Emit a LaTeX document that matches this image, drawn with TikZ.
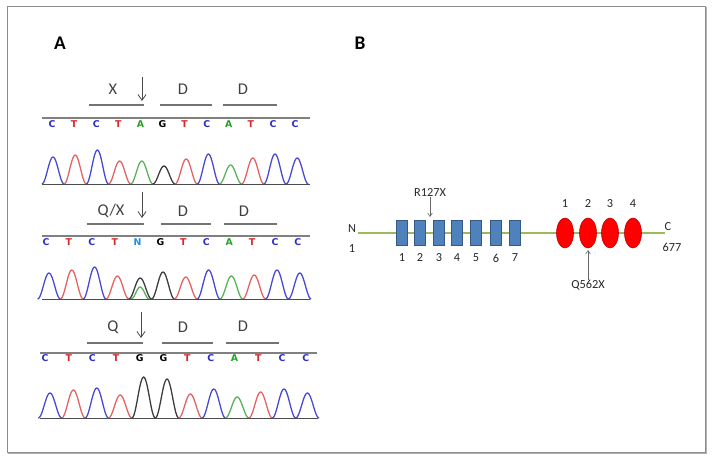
\documentclass[tikz,border=0pt]{standalone}
\usepackage{fontspec}
\setmainfont{Carlito}
\newfontfamily\basefont{DejaVu Sans}
\usetikzlibrary{positioning,arrows.meta,shapes.geometric}

\definecolor{tblue}{RGB}{72,72,215}
\definecolor{tred}{RGB}{228,98,98}
\definecolor{tgreen}{RGB}{88,178,88}
\definecolor{tblack}{RGB}{60,60,60}
\definecolor{lblue}{RGB}{45,45,200}
\definecolor{lred}{RGB}{215,40,40}
\definecolor{lgreen}{RGB}{40,160,40}
\definecolor{lcyan}{RGB}{30,140,230}
\definecolor{domblue}{RGB}{79,129,189}
\definecolor{domgreen}{RGB}{155,187,89}

\tikzset{
  panel/.style={font=\fontsize{16.5}{18}\selectfont\bfseries, inner sep=0pt},
  codon/.style={font=\fontsize{14}{16}\selectfont, text=black!75, inner sep=0pt},
  codonbar/.style={draw=black!55, line width=1.1pt},
  seqbar/.style={draw=black!50, line width=1.3pt},
  tracebar/.style={draw=black!70, line width=0.8pt},
  base/.style={font=\basefont\bfseries\fontsize{8}{8}\selectfont, inner sep=0pt},
  peak/.style={line width=1.1pt, line join=round},
  mutarrow/.style={-{Straight Barb[length=5pt,width=7pt]}, draw=black!70, line width=0.7pt},
  ptarrow/.style={-{Straight Barb[length=3pt,width=4pt]}, draw=black!60, line width=0.5pt},
  domlabel/.style={font=\fontsize{10.5}{12}\selectfont, text=black!85, inner sep=0pt},
  igbox/.style={rectangle, draw=domblue!70!black, fill=domblue, line width=0.5pt,
    minimum width=0.33cm, minimum height=0.75cm, inner sep=0pt},
  lrr/.style={ellipse, draw=red!75!black, fill=red, line width=0.5pt,
    minimum width=0.51cm, minimum height=0.9cm, inner sep=0pt},
}

\begin{document}
\begin{tikzpicture}[x=0.03cm, y=-0.03cm]
\useasboundingbox (0,0) rectangle (712,459);
\draw[black!30, line width=1pt] (8,453.5) -- (706.5,453.5) -- (706.5,7);
\draw[black!45, line width=0.8pt] (7,6) rectangle (705,452);

\node[panel] (pa) at (60,43) {A};
\node[panel] (pb) at (360,43) {B};

%%%%%%%%%%%%%% trace 1
\node[codon] (x1) at (113,89) {X};
\node[codon] (d11) at (183,89) {D};
\node[codon] (d12) at (243,89) {D};
\coordinate (arr1s) at (142,77);
\coordinate (arr1e) at (142,101);
\draw[mutarrow] (arr1s) -- (arr1e);
\draw[codonbar] (89,105) -- (144,105);
\draw[codonbar] (160,105) -- (212,105);
\draw[codonbar] (223,105) -- (277,105);
\draw[seqbar] (42,118) -- (310,118);
\foreach \b/\col [count=\i from 0] in {C/lblue,T/lred,C/lblue,T/lred,A/lgreen,G/black,T/lred,C/lblue,A/lgreen,T/lred,C/lblue,C/lblue}
  \node[base,text=\col] (s1b\i) at ({52+22.1*\i},124) {\b};
\foreach \col/\h [count=\i from 0] in {tblue/27,tred/29,tblue/34,tred/23,tgreen/23,tblack/18,tred/25,tblue/30,tgreen/19,tred/26,tblue/30,tblue/26}
  \draw[peak,\col] plot[domain=-11.1:11.1,samples=25,smooth] ({53+22.2*\i+\x},{184-\h*(0.5+0.5*cos(\x*180/11.1))});
\draw[tracebar] (42,184) -- (310,184);

%%%%%%%%%%%%%% trace 2
\node[codon] (qx2) at (111,211) {Q/X};
\node[codon] (d21) at (183,211) {D};
\node[codon] (d22) at (244,211) {D};
\coordinate (arr2s) at (142,192);
\coordinate (arr2e) at (142,218);
\draw[mutarrow] (arr2s) -- (arr2e);
\draw[codonbar] (87,224) -- (144,224);
\draw[codonbar] (161,224) -- (211,224);
\draw[codonbar] (224,224) -- (277,224);
\draw[seqbar] (42,236) -- (310,236);
\foreach \b/\col [count=\i from 0] in {C/lblue,T/lred,C/lblue,T/lred,N/lcyan,G/black,T/lred,C/lblue,A/lgreen,T/lred,C/lblue,C/lblue}
  \node[base,text=\col] (s2b\i) at ({46+22.9*\i},242) {\b};
\draw[peak,tgreen] plot[domain=-9:9,samples=25,smooth] ({49+22.8*4+\x},{299-12*(0.5+0.5*cos(\x*180/9))});
\foreach \col/\h [count=\i from 0] in {tblue/26,tred/29,tblue/32,tred/23,tblack/21,tblack/27,tred/22,tblue/29,tgreen/23,tred/24,tblue/29,tblue/26}
  \draw[peak,\col] plot[domain=-11.4:11.4,samples=25,smooth] ({49+22.8*\i+\x},{299-\h*(0.5+0.5*cos(\x*180/11.4))});
\draw[tracebar] (42,299) -- (310,299);

%%%%%%%%%%%%%% trace 3
\node[codon] (q3) at (113,327) {Q};
\node[codon] (d31) at (183,327) {D};
\node[codon] (d32) at (243,326) {D};
\coordinate (arr3s) at (141,312);
\coordinate (arr3e) at (141,338);
\draw[mutarrow] (arr3s) -- (arr3e);
\draw[codonbar] (87,343) -- (143,343);
\draw[codonbar] (162,343) -- (213,343);
\draw[codonbar] (226,343) -- (279,343);
\draw[seqbar] (40,353) -- (317,353);
\foreach \b/\col [count=\i from 0] in {C/lblue,T/lred,C/lblue,T/lred,G/black,G/black,T/lred,C/lblue,A/lgreen,T/lred,C/lblue,C/lblue}
  \node[base,text=\col] (s3b\i) at ({45+23.7*\i},358) {\b};
\foreach \col/\h [count=\i from 0] in {tblue/25,tred/28,tblue/30,tred/23,tblack/41,tblack/39,tred/24,tblue/29,tgreen/21,tred/26,tblue/29,tblue/25}
  \draw[peak,\col] plot[domain=-11.7:11.7,samples=25,smooth] ({50+23.4*\i+\x},{418-\h*(0.5+0.5*cos(\x*180/11.7))});
\draw[tracebar] (40,418) -- (318,418);

%%%%%%%%%%%%%% protein
\coordinate (nterm) at (358,233);
\coordinate (cterm) at (665,233);
\draw[domgreen, line width=2.4pt] (nterm) -- (cterm);
\node[domlabel] (nlab) at (352,229) {N};
\node[domlabel] (nnum) at (352,249) {1};
\node[domlabel] (clab) at (668,227) {C};
\node[domlabel] (cnum) at (672,247) {677};
\foreach \x [count=\i] in {402,420,439,457,476,496,515} {
  \node[igbox] (ig\i) at (\x,233) {};
  \node[domlabel] (ign\i) at (\x,258) {\i};
}
\foreach \x [count=\i] in {565,588,610,633} {
  \node[lrr] (lrr\i) at (\x,233) {};
  \node[domlabel] (lrrn\i) at (\x,204) {\i};
}
\node[domlabel] (r127) at (430,193) {R127X};
\coordinate (r127e) at (430,217);
\draw[ptarrow] (r127) -- (r127e);
\node[domlabel] (q562) at (588,285) {Q562X};
\coordinate (q562e) at (588,250);
\draw[ptarrow] (q562) -- (q562e);
\end{tikzpicture}
\end{document}
